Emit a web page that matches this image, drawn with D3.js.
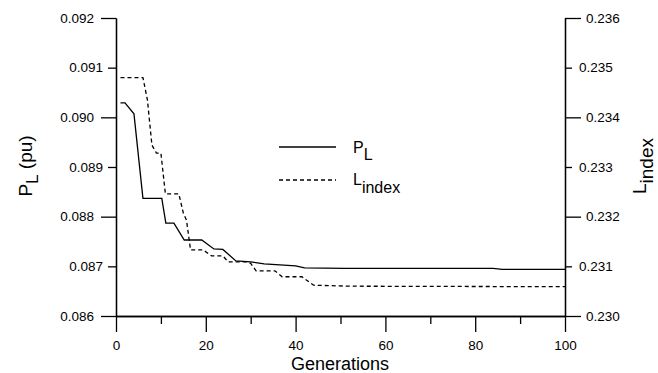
<!DOCTYPE html>
<html>
<head>
<meta charset="utf-8">
<script src="https://cdn.jsdelivr.net/npm/d3@7/dist/d3.min.js"></script>
<style>
  html, body { margin: 0; padding: 0; background: #fff; }
  svg { display: block; font-family: "Liberation Sans", Arial, sans-serif; }
</style>
</head>
<body>
<svg id="chart" width="658" height="373"></svg>
<script>
// ---- data ----
const plGenerations = [1, 2, 4, 6, 10.2, 11.1, 12.9, 15.2, 19.1, 21.8, 23.8, 26.7, 30, 33, 40, 42, 51, 84, 86, 100];
const plValues = [0.09029, 0.09029, 0.09007, 0.08837, 0.08837, 0.08787, 0.08787, 0.08753, 0.08753, 0.08735, 0.08734, 0.08711, 0.08709, 0.08705, 0.08701, 0.08697, 0.08696, 0.08696, 0.08694, 0.08694];

const lGenerations = [1, 6, 7, 8, 9, 10, 11, 14, 15, 15.7, 16.6, 19.4, 21.3, 23.8, 25, 29.1, 30, 31.2, 35.4, 37, 41.4, 44, 52, 100];
const lValues = [0.23480, 0.23480, 0.23435, 0.23344, 0.23328, 0.23328, 0.23246, 0.23246, 0.23207, 0.23193, 0.23133, 0.23133, 0.23121, 0.23121, 0.23109, 0.23109, 0.23106, 0.23091, 0.23091, 0.23079, 0.23079, 0.23062, 0.23060, 0.23059];

const xMajorTicks = [0, 20, 40, 60, 80, 100];
const xMinorTicks = [10, 30, 50, 70, 90];
const leftMajorTicks = [0.086, 0.088, 0.090, 0.092];
const leftMinorTicks = [0.087, 0.089, 0.091];
const rightMajorTicks = [0.230, 0.232, 0.234, 0.236];
const rightMinorTicks = [0.231, 0.233, 0.235];

// ---- layout ----
const svg = d3.select("#chart");
const plotLeft = 116, plotRight = 565, plotTop = 18, plotBottom = 316;

const x = d3.scaleLinear().domain([0, 100]).range([plotLeft, plotRight]);
const yL = d3.scaleLinear().domain([0.086, 0.092]).range([plotBottom, plotTop]);
const yR = d3.scaleLinear().domain([0.230, 0.236]).range([plotBottom, plotTop]);

const fmt = d3.format(".3f");

function styleAxis(g, fontSize) {
  g.selectAll("path, line").attr("stroke", "#000").attr("stroke-width", 1.3);
  g.selectAll("text").attr("fill", "#000").style("font-size", fontSize + "px")
    .style("font-family", '"Liberation Sans", Arial, sans-serif');
}

// bottom axis
svg.append("g").attr("transform", `translate(0,${plotBottom})`)
  .call(d3.axisBottom(x).tickValues(xMinorTicks).tickSize(8).tickSizeOuter(0).tickFormat(""))
  .call(g => styleAxis(g, 13.5));
svg.append("g").attr("transform", `translate(0,${plotBottom})`)
  .call(d3.axisBottom(x).tickValues(xMajorTicks).tickSize(16).tickSizeOuter(0).tickPadding(8.5).tickFormat(d3.format("d")))
  .call(g => styleAxis(g, 13.5));

// left axis
svg.append("g").attr("transform", `translate(${plotLeft},0)`)
  .call(d3.axisLeft(yL).tickValues(leftMinorTicks).tickSize(8).tickSizeOuter(0).tickPadding(5).tickFormat(fmt))
  .call(g => styleAxis(g, 13.5));
svg.append("g").attr("transform", `translate(${plotLeft},0)`)
  .call(d3.axisLeft(yL).tickValues(leftMajorTicks).tickSize(15).tickSizeOuter(0).tickPadding(7).tickFormat(fmt))
  .call(g => styleAxis(g, 13.5));

// right axis
svg.append("g").attr("transform", `translate(${plotRight},0)`)
  .call(d3.axisRight(yR).tickValues(rightMinorTicks).tickSize(7).tickSizeOuter(0).tickPadding(7).tickFormat(fmt))
  .call(g => styleAxis(g, 13.5));
svg.append("g").attr("transform", `translate(${plotRight},0)`)
  .call(d3.axisRight(yR).tickValues(rightMajorTicks).tickSize(16).tickSizeOuter(0).tickPadding(5).tickFormat(fmt))
  .call(g => styleAxis(g, 13.5));

// lines
const plData = plGenerations.map((g, i) => [g, plValues[i]]);
const lData = lGenerations.map((g, i) => [g, lValues[i]]);

svg.append("path").datum(plData)
  .attr("fill", "none").attr("stroke", "#000").attr("stroke-width", 1.3)
  .attr("d", d3.line().x(d => x(d[0])).y(d => yL(d[1])));
svg.append("path").datum(lData)
  .attr("fill", "none").attr("stroke", "#000").attr("stroke-width", 1.3)
  .attr("stroke-dasharray", "4,3")
  .attr("d", d3.line().x(d => x(d[0])).y(d => yR(d[1])));

// titles
svg.append("text").attr("x", 340).attr("y", 369.5).attr("text-anchor", "middle")
  .style("font-size", "18px").text("Generations");

const lt = svg.append("text").attr("transform", "translate(32,166) rotate(-90)")
  .attr("text-anchor", "middle").style("font-size", "19px");
lt.append("tspan").text("P");
lt.append("tspan").attr("dy", 6).style("font-size", "17px").text("L");
lt.append("tspan").attr("dy", -6).text(" (pu)");

const rt = svg.append("text").attr("transform", "translate(646,166) rotate(-90)")
  .attr("text-anchor", "middle").style("font-size", "19px");
rt.append("tspan").text("L");
rt.append("tspan").attr("dy", 7).text("index");

// legend
svg.append("line").attr("x1", 279).attr("x2", 336).attr("y1", 147).attr("y2", 147)
  .attr("stroke", "#000").attr("stroke-width", 1.3);
svg.append("line").attr("x1", 279).attr("x2", 336).attr("y1", 180).attr("y2", 180)
  .attr("stroke", "#000").attr("stroke-width", 1.3).attr("stroke-dasharray", "4,3");

const lg1 = svg.append("text").attr("x", 353).attr("y", 153).style("font-size", "16px");
lg1.append("tspan").text("P");
lg1.append("tspan").attr("dy", 7).text("L");
const lg2 = svg.append("text").attr("x", 353).attr("y", 185).style("font-size", "16px");
lg2.append("tspan").text("L");
lg2.append("tspan").attr("dy", 8).text("index");
</script>
</body>
</html>
